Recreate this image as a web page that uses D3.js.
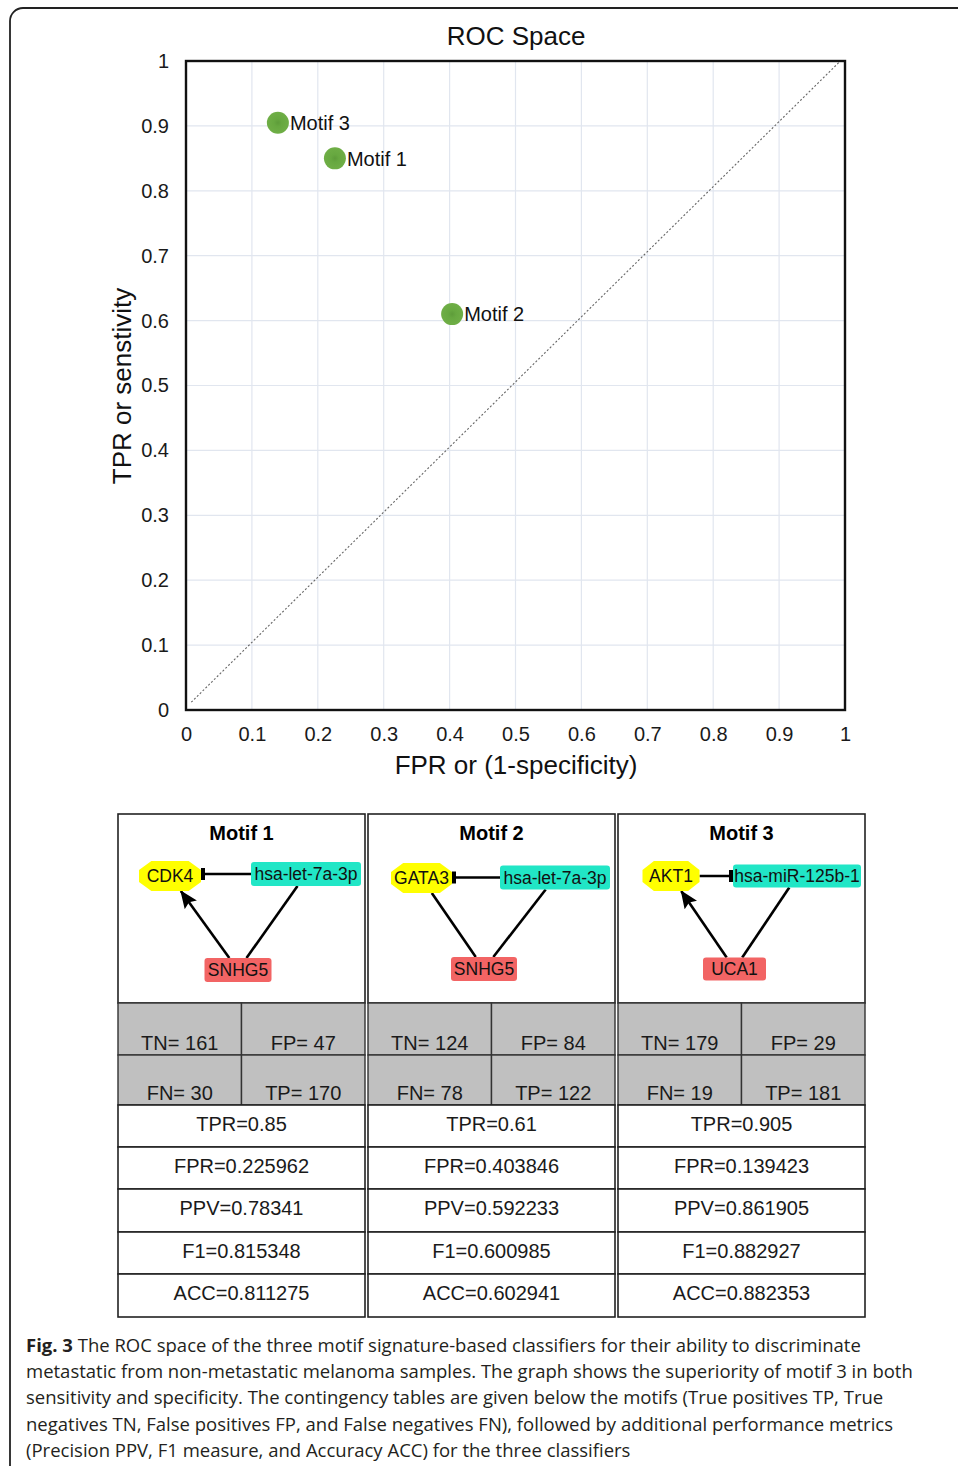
<!DOCTYPE html>
<html>
<head>
<meta charset="utf-8">
<script src="https://cdn.jsdelivr.net/npm/d3@7/dist/d3.min.js"></script>
<style>
body { margin:0; background:#fff; }
svg  { display:block; font-family:"Liberation Sans", Arial, sans-serif; }
</style>
</head>
<body>
<script>
// ROC 空间中的三个分类器
var v_MotifNames  = ["Motif 1", "Motif 2", "Motif 3"];
var v_FPR         = [0.225962, 0.403846, 0.139423];
var v_TPR         = [0.85, 0.61, 0.905];
var v_Ticks       = [0, 0.1, 0.2, 0.3, 0.4, 0.5, 0.6, 0.7, 0.8, 0.9, 1];
var v_TickLabels  = ["0", "0.1", "0.2", "0.3", "0.4", "0.5", "0.6", "0.7", "0.8", "0.9", "1"];

// 列联表
var v_TN          = [161, 124, 179];
var v_FP          = [47, 84, 29];
var v_FN          = [30, 78, 19];
var v_TP          = [170, 122, 181];

// 其它指标（按图中文字）
var v_TPRText     = ["0.85", "0.61", "0.905"];
var v_FPRText     = ["0.225962", "0.403846", "0.139423"];
var v_PPVText     = ["0.78341", "0.592233", "0.861905"];
var v_F1Text      = ["0.815348", "0.600985", "0.882927"];
var v_ACCText     = ["0.811275", "0.602941", "0.882353"];

// Motif 网络
var v_Genes       = ["CDK4", "GATA3", "AKT1"];
var v_MiRNAs      = ["hsa-let-7a-3p", "hsa-let-7a-3p", "hsa-miR-125b-1"];
var v_LncRNAs     = ["SNHG5", "SNHG5", "UCA1"];
var v_InhibitEnd  = ["gene", "gene", "mirna"];
var v_LncToGene   = ["arrow", "line", "arrow"];

var v_Caption = [
    "The ROC space of the three motif signature-based classifiers for their ability to discriminate",
    "metastatic from non-metastatic melanoma samples. The graph shows the superiority of motif 3 in both",
    "sensitivity and specificity. The contingency tables are given below the motifs (True positives TP, True",
    "negatives TN, False positives FP, and False negatives FN), followed by additional performance metrics",
    "(Precision PPV, F1 measure, and Accuracy ACC) for the three classifiers"
];



var v_SVG = d3.select("body").append("svg")
    .attr("width", 958)
    .attr("height", 1466);

// 外框
v_SVG.append("rect")
    .attr("x", 10).attr("y", 8)
    .attr("width", 1000).attr("height", 1500)
    .attr("rx", 13)
    .attr("fill", "none")
    .attr("stroke", "#222")
    .attr("stroke-width", 1.8);



/* ---------------- ROC 图 ---------------- */
var v_X = d3.scaleLinear().domain([0, 1]).range([186, 845]);
var v_Y = d3.scaleLinear().domain([0, 1]).range([710, 61]);

var v_Defs = v_SVG.append("defs");
var v_Grad = v_Defs.append("radialGradient").attr("id", "dotGrad");
v_Grad.append("stop").attr("offset", "0%").attr("stop-color", "#5e9c3a");
v_Grad.append("stop").attr("offset", "35%").attr("stop-color", "#67a840");
v_Grad.append("stop").attr("offset", "100%").attr("stop-color", "#6fae46");

var v_Grid = v_SVG.append("g");
v_Grid.selectAll("line.v")
    .data(v_Ticks.slice(1, -1))
    .enter().append("line")
    .attr("x1", d => v_X(d)).attr("x2", d => v_X(d))
    .attr("y1", v_Y(0)).attr("y2", v_Y(1))
    .attr("stroke", "#e1e6ef").attr("stroke-width", 1.2);
v_Grid.selectAll("line.h")
    .data(v_Ticks.slice(1, -1))
    .enter().append("line")
    .attr("y1", d => v_Y(d)).attr("y2", d => v_Y(d))
    .attr("x1", v_X(0)).attr("x2", v_X(1))
    .attr("stroke", "#e1e6ef").attr("stroke-width", 1.2);

// 对角线
v_SVG.append("line")
    .attr("x1", v_X(0.008)).attr("y1", v_Y(0.012))
    .attr("x2", v_X(0.993)).attr("y2", v_Y(1))
    .attr("stroke", "#666")
    .attr("stroke-width", 1.1)
    .attr("stroke-dasharray", "2,2");

v_SVG.append("rect")
    .attr("x", v_X(0)).attr("y", v_Y(1))
    .attr("width", v_X(1) - v_X(0))
    .attr("height", v_Y(0) - v_Y(1))
    .attr("fill", "none")
    .attr("stroke", "#111")
    .attr("stroke-width", 2.4);

var v_XAxis = v_SVG.append("g")
    .attr("transform", "translate(0," + v_Y(0) + ")")
    .call(d3.axisBottom(v_X).tickValues(v_Ticks)
        .tickFormat((d, i) => v_TickLabels[i])
        .tickSize(0).tickPadding(17));
var v_YAxis = v_SVG.append("g")
    .attr("transform", "translate(" + v_X(0) + ",0)")
    .call(d3.axisLeft(v_Y).tickValues(v_Ticks)
        .tickFormat((d, i) => v_TickLabels[i])
        .tickSize(0).tickPadding(17));

[v_XAxis, v_YAxis].forEach(function (a)
{
    a.select(".domain").remove();
    a.selectAll("text")
        .attr("font-family", "Liberation Sans, Arial, sans-serif")
        .attr("font-size", 20)
        .attr("fill", "#1a1a1a");
});

v_SVG.append("text")
    .attr("x", 516).attr("y", 45)
    .attr("text-anchor", "middle")
    .attr("font-size", 26)
    .attr("fill", "#111")
    .text("ROC Space");

v_SVG.append("text")
    .attr("x", 516).attr("y", 774)
    .attr("text-anchor", "middle")
    .attr("font-size", 26)
    .attr("fill", "#111")
    .text("FPR or (1-specificity)");

v_SVG.append("text")
    .attr("transform", "translate(131,386) rotate(-90)")
    .attr("text-anchor", "middle")
    .attr("font-size", 26)
    .attr("fill", "#111")
    .text("TPR or senstivity");

var v_Points = v_SVG.append("g").selectAll("g")
    .data(v_MotifNames)
    .enter().append("g")
    .attr("transform", (d, i) => "translate(" + v_X(v_FPR[i]) + "," + v_Y(v_TPR[i]) + ")");

v_Points.append("circle")
    .attr("r", 11)
    .attr("fill", "url(#dotGrad)");

v_Points.append("text")
    .attr("x", 12)
    .attr("dy", "0.36em")
    .attr("font-size", 20)
    .attr("fill", "#111")
    .text(d => d);



/* ---------------- Motif 表格 ---------------- */
var v_ColX   = [118, 368, 618];
var v_ColW   = 247;
var v_Top    = 814;
var v_GrayY  = 1003;
var v_GrayH  = [52, 50];
var v_RowY   = [1105, 1147, 1189, 1232, 1274, 1317];

// 网络节点布局（相对于列左边）
var v_Layout = [
    { gene: [52, 876, 62, 30],   mirna: [188, 874, 110, 24],   lnc: [120, 970, 67, 24] },
    { gene: [53.5, 878, 61, 30], mirna: [187, 877.5, 110, 24], lnc: [116, 969, 66, 24] },
    { gene: [53, 876, 57, 30],   mirna: [179, 876, 128, 23],   lnc: [116.5, 969, 63, 23] }
];

v_Defs.append("marker")
    .attr("id", "arrowHead")
    .attr("markerUnits", "userSpaceOnUse")
    .attr("viewBox", "0 0 18 15")
    .attr("refX", 17).attr("refY", 7.5)
    .attr("markerWidth", 18).attr("markerHeight", 15)
    .attr("orient", "auto")
    .append("path")
    .attr("d", "M0,0 L18,7.5 L0,15 L3,7.5 z")
    .attr("fill", "#000");

function clipPoint(i_C, i_Half, i_DX, i_DY)
{
    let v_T = Math.min(i_Half[0] / Math.abs(i_DX || 1e-9), i_Half[1] / Math.abs(i_DY || 1e-9));
    return [i_C[0] + i_DX * v_T, i_C[1] + i_DY * v_T];
}

function edge(i_G, i_A, i_B, i_Arrow)
{
    let v_DX = i_B.c[0] - i_A.c[0];
    let v_DY = i_B.c[1] - i_A.c[1];
    let v_P1 = clipPoint(i_A.c, i_A.h, v_DX, v_DY);
    let v_P2 = clipPoint(i_B.c, i_B.h, -v_DX, -v_DY);
    let v_L = i_G.append("line")
        .attr("x1", v_P1[0]).attr("y1", v_P1[1])
        .attr("x2", v_P2[0]).attr("y2", v_P2[1])
        .attr("stroke", "#000").attr("stroke-width", 2.6);
    if ( i_Arrow )
    {
        v_L.attr("marker-end", "url(#arrowHead)");
    }
}

function octagon(i_W, i_H)
{
    let v_CX = i_W * 0.2;
    let v_CY = i_H * 0.3;
    let v_W = i_W / 2, v_H = i_H / 2;
    return [
        [-v_W + v_CX, -v_H], [v_W - v_CX, -v_H], [v_W, -v_H + v_CY], [v_W, v_H - v_CY],
        [v_W - v_CX, v_H], [-v_W + v_CX, v_H], [-v_W, v_H - v_CY], [-v_W, -v_H + v_CY]
    ].map(p => p.join(",")).join(" ");
}

for (let x = 0; x < v_MotifNames.length; x++)
{
    let v_G  = v_SVG.append("g");
    let v_X0 = v_ColX[x];
    let v_L  = v_Layout[x];

    // 顶部方框
    v_G.append("rect")
        .attr("x", v_X0).attr("y", v_Top)
        .attr("width", v_ColW).attr("height", v_GrayY - v_Top)
        .attr("fill", "#fff").attr("stroke", "#222").attr("stroke-width", 1.6);

    v_G.append("text")
        .attr("x", v_X0 + v_ColW / 2).attr("y", 840)
        .attr("text-anchor", "middle")
        .attr("font-size", 20).attr("font-weight", "bold")
        .text(v_MotifNames[x]);

    let v_Gene  = { c: [v_X0 + v_L.gene[0],  v_L.gene[1]],  h: [v_L.gene[2] / 2,  v_L.gene[3] / 2] };
    let v_Mirna = { c: [v_X0 + v_L.mirna[0], v_L.mirna[1]], h: [v_L.mirna[2] / 2, v_L.mirna[3] / 2] };
    let v_Lnc   = { c: [v_X0 + v_L.lnc[0],   v_L.lnc[1]],   h: [v_L.lnc[2] / 2,   v_L.lnc[3] / 2] };

    // 边
    let v_EY  = v_Mirna.c[1];
    let v_GxR = v_Gene.c[0] + v_Gene.h[0];
    let v_MxL = v_Mirna.c[0] - v_Mirna.h[0];
    v_G.append("line")
        .attr("x1", v_GxR).attr("x2", v_MxL)
        .attr("y1", v_EY).attr("y2", v_EY)
        .attr("stroke", "#000").attr("stroke-width", 2.6);
    let v_BarX = v_InhibitEnd[x] == "gene" ? v_GxR : v_MxL - 4;
    v_G.append("rect")
        .attr("x", v_BarX).attr("y", v_EY - 6)
        .attr("width", 4).attr("height", 12)
        .attr("fill", "#000");

    edge(v_G, v_Lnc, v_Gene, v_LncToGene[x] == "arrow");
    edge(v_G, v_Lnc, v_Mirna, false);

    // 节点
    v_G.append("polygon")
        .attr("transform", "translate(" + v_Gene.c[0] + "," + v_Gene.c[1] + ")")
        .attr("points", octagon(v_L.gene[2], v_L.gene[3]))
        .attr("fill", "#ffff00");
    v_G.append("rect")
        .attr("x", v_Mirna.c[0] - v_Mirna.h[0]).attr("y", v_Mirna.c[1] - v_Mirna.h[1])
        .attr("width", v_L.mirna[2]).attr("height", v_L.mirna[3])
        .attr("rx", 3)
        .attr("fill", "#21e6c6");
    v_G.append("rect")
        .attr("x", v_Lnc.c[0] - v_Lnc.h[0]).attr("y", v_Lnc.c[1] - v_Lnc.h[1])
        .attr("width", v_L.lnc[2]).attr("height", v_L.lnc[3])
        .attr("rx", 3)
        .attr("fill", "#f26464");

    [[v_Gene, v_Genes[x]], [v_Mirna, v_MiRNAs[x]], [v_Lnc, v_LncRNAs[x]]].forEach(function (n)
    {
        v_G.append("text")
            .attr("x", n[0].c[0]).attr("y", n[0].c[1])
            .attr("dy", "0.36em")
            .attr("text-anchor", "middle")
            .attr("font-size", 17.5)
            .attr("fill", "#111")
            .text(n[1]);
    });

    // 灰色列联表
    let v_Half  = v_ColW / 2;
    let v_Cells = [
        [0, 0, "TN= " + v_TN[x]], [1, 0, "FP= " + v_FP[x]],
        [0, 1, "FN= " + v_FN[x]], [1, 1, "TP= " + v_TP[x]]
    ];
    v_Cells.forEach(function (c)
    {
        let v_CY = v_GrayY + (c[1] == 0 ? 0 : v_GrayH[0]);
        let v_CH = v_GrayH[c[1]];
        v_G.append("rect")
            .attr("x", v_X0 + c[0] * v_Half).attr("y", v_CY)
            .attr("width", v_Half).attr("height", v_CH)
            .attr("fill", "#c0c0c0").attr("stroke", "#333").attr("stroke-width", 1.4);
        v_G.append("text")
            .attr("x", v_X0 + c[0] * v_Half + v_Half / 2)
            .attr("y", v_CY + v_CH - 5)
            .attr("text-anchor", "middle")
            .attr("font-size", 20)
            .attr("fill", "#1a1a1a")
            .text(c[2]);
    });

    // 指标行
    let v_Metrics = [
        "TPR=" + v_TPRText[x], "FPR=" + v_FPRText[x], "PPV=" + v_PPVText[x],
        "F1="  + v_F1Text[x],  "ACC=" + v_ACCText[x]
    ];
    v_Metrics.forEach(function (m, k)
    {
        v_G.append("rect")
            .attr("x", v_X0).attr("y", v_RowY[k])
            .attr("width", v_ColW).attr("height", v_RowY[k + 1] - v_RowY[k])
            .attr("fill", "#fff").attr("stroke", "#222").attr("stroke-width", 1.6);
        v_G.append("text")
            .attr("x", v_X0 + v_ColW / 2)
            .attr("y", v_RowY[k] + 26)
            .attr("text-anchor", "middle")
            .attr("font-size", 20)
            .attr("fill", "#1a1a1a")
            .text(m);
    });
}



/* ---------------- 图注 ---------------- */
var v_Cap = v_SVG.append("g")
    .attr("font-family", "'Open Sans', 'Noto Sans', sans-serif")
    .attr("font-size", 19.5)
    .attr("fill", "#231f20");

var v_CapText = [];
v_Caption.forEach(function (line, i)
{
    let v_T = v_Cap.append("text")
        .attr("x", 26)
        .attr("y", 1352 + i * 26.2);
    if ( i == 0 )
    {
        v_T.append("tspan").attr("font-weight", "bold").text("Fig. 3");
        v_T.append("tspan").text(" " + line);
    }
    else
    {
        v_T.text(line);
    }
    v_CapText.push(v_T);
});

// 第二行在原图中宽约 887px，据此缩放字号
var v_W2 = v_CapText[1].node().getComputedTextLength();
v_Cap.attr("font-size", 19.5 * 887 / v_W2);
</script>
</body>
</html>
